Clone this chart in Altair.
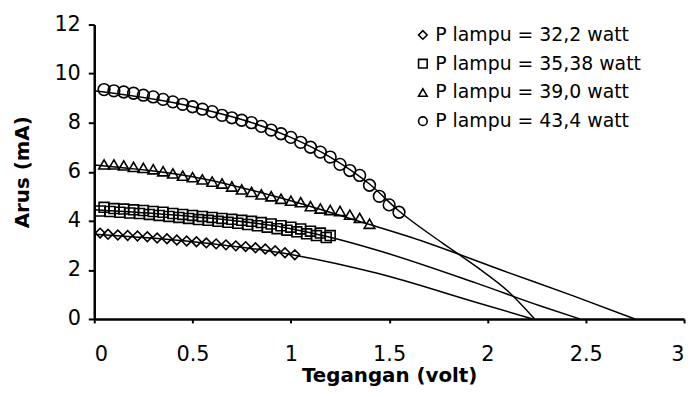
import altair as alt
import pandas as pd

# ---------------- data ----------------
series_labels = ["P lampu = 32,2 watt", "P lampu = 35,38 watt",
                 "P lampu = 39,0 watt", "P lampu = 43,4 watt"]
series_shapes = ["diamond", "square", "triangle-up", "circle"]
series_sizes = [95, 100, 115, 140]

x_ticks = [0, 0.5, 1, 1.5, 2, 2.5, 3]
y_ticks = [0, 2, 4, 6, 8, 10, 12]

# 32,2 watt (diamonds)
dia_x = [0.03, 0.07, 0.12, 0.17, 0.22, 0.27, 0.32, 0.37, 0.42, 0.47, 0.52,
         0.57, 0.62, 0.67, 0.72, 0.77, 0.82, 0.87, 0.92, 0.97, 1.02]
dia_y = [3.5, 3.45, 3.42, 3.4, 3.38, 3.35, 3.3, 3.27, 3.22, 3.18, 3.15,
         3.1, 3.06, 3.02, 2.98, 2.95, 2.9, 2.85, 2.78, 2.7, 2.62]

# 35,38 watt (squares, two overlapping runs)
sqa_x = [0.05, 0.1, 0.15, 0.2, 0.25, 0.3, 0.35, 0.4, 0.45, 0.5, 0.55, 0.6,
         0.65, 0.7, 0.75, 0.8, 0.85, 0.9, 0.95, 1.0, 1.05, 1.1, 1.15, 1.2]
sqa_y = [4.55, 4.5, 4.48, 4.45, 4.42, 4.38, 4.35, 4.3, 4.26, 4.22, 4.18, 4.14,
         4.1, 4.06, 4.02, 3.98, 3.93, 3.87, 3.8, 3.74, 3.67, 3.58, 3.5, 3.4]
sqb_x = [0.03, 0.08, 0.13, 0.18, 0.23, 0.28, 0.33, 0.38, 0.43, 0.48, 0.53, 0.58,
         0.63, 0.68, 0.73, 0.78, 0.83, 0.88, 0.93, 0.98, 1.03, 1.08, 1.13, 1.18]
sqb_y = [4.4, 4.38, 4.35, 4.32, 4.3, 4.26, 4.22, 4.18, 4.14, 4.1, 4.05, 4.02,
         3.98, 3.94, 3.9, 3.85, 3.8, 3.74, 3.68, 3.62, 3.55, 3.47, 3.4, 3.32]

# 39,0 watt (triangles)
tri_x = [0.05, 0.1, 0.15, 0.2, 0.25, 0.3, 0.35, 0.4, 0.45, 0.5, 0.55, 0.6, 0.65, 0.7,
         0.75, 0.8, 0.85, 0.9, 0.95, 1.0, 1.05, 1.1, 1.15, 1.2, 1.25, 1.3, 1.35, 1.4]
tri_y = [6.3, 6.3, 6.26, 6.2, 6.16, 6.1, 6.02, 5.93, 5.84, 5.78, 5.69, 5.6, 5.52, 5.4,
         5.28, 5.18, 5.08, 5.0, 4.9, 4.82, 4.76, 4.6, 4.5, 4.44, 4.4, 4.25, 4.12, 3.88]

# 43,4 watt (circles)
cir_x = [0.05, 0.1, 0.15, 0.2, 0.25, 0.3, 0.35, 0.4, 0.45, 0.5, 0.55, 0.6, 0.65, 0.7,
         0.75, 0.8, 0.85, 0.9, 0.95, 1.0, 1.05, 1.1, 1.15, 1.2, 1.25, 1.3, 1.35, 1.4,
         1.45, 1.5, 1.55]
cir_y = [9.35, 9.3, 9.25, 9.2, 9.12, 9.05, 8.95, 8.85, 8.75, 8.65, 8.55, 8.45, 8.3, 8.2,
         8.1, 8.0, 7.85, 7.7, 7.55, 7.4, 7.2, 7.0, 6.8, 6.6, 6.3, 6.05, 5.85, 5.45,
         5.0, 4.65, 4.35]

# fitted curves
dia_cx = [0.0, 0.5, 1.02, 1.44, 1.94, 2.23]
dia_cy = [3.45, 3.15, 2.6, 1.86, 0.68, 0.0]
sq_cx = [0.0, 0.5, 1.0, 1.2, 1.44, 1.94, 2.27, 2.47]
sq_cy = [4.45, 4.17, 3.68, 3.33, 2.8, 1.47, 0.53, 0.0]
tri_cx = [0.0, 0.5, 1.0, 1.38, 1.61, 2.11, 2.44, 2.75]
tri_cy = [6.28, 5.8, 4.82, 3.9, 3.33, 1.88, 0.93, 0.0]
cir_cx = [0.0, 0.5, 1.0, 1.2, 1.4, 1.55, 1.77, 1.94, 2.11, 2.24]
cir_cy = [9.3, 8.65, 7.4, 6.6, 5.5, 4.4, 3.1, 2.15, 1.09, 0.0]

# ---------------- tables ----------------
pts_rows = []
for lab, xs, ys in [(series_labels[0], dia_x, dia_y),
                    (series_labels[1], sqa_x, sqa_y),
                    (series_labels[1], sqb_x, sqb_y),
                    (series_labels[2], tri_x, tri_y),
                    (series_labels[3], cir_x, cir_y)]:
    for xv, yv in zip(xs, ys):
        pts_rows.append({"v": xv, "i": yv, "s": lab})
pts = pd.DataFrame(pts_rows)

cur_rows = []
for lab, xs, ys in [(series_labels[0], dia_cx, dia_cy),
                    (series_labels[1], sq_cx, sq_cy),
                    (series_labels[2], tri_cx, tri_cy),
                    (series_labels[3], cir_cx, cir_cy)]:
    for k, (xv, yv) in enumerate(zip(xs, ys)):
        cur_rows.append({"v": xv, "i": yv, "s": lab, "o": k})
curves = pd.DataFrame(cur_rows)

FONT = "DejaVu Sans"
x_scale = alt.Scale(domain=[0, 3], nice=False, zero=True)
y_scale = alt.Scale(domain=[0, 12], nice=False)

x_enc = alt.X("v:Q", scale=x_scale,
              axis=alt.Axis(values=x_ticks, format="~g", title="Tegangan (volt)",
                            labelPadding=21, titlePadding=1, tickSize=4))
y_enc = alt.Y("i:Q", scale=y_scale,
              axis=alt.Axis(values=y_ticks, title="Arus (mA)",
                            labelPadding=8, titlePadding=22, tickSize=6))

lines = alt.Chart(curves).mark_line(
    color="black", strokeWidth=1.5, interpolate="monotone"
).encode(x=x_enc, y=y_enc, detail="s:N", order="o:Q")

shape_scale = alt.Scale(domain=series_labels, range=series_shapes)
legend = alt.Legend(title=None, orient="none", legendX=322, legendY=1,
                    labelFont=FONT, labelFontSize=19, labelColor="black",
                    labelLimit=0,
                    symbolSize=75, symbolStrokeWidth=1.6,
                    symbolStrokeColor="black", symbolFillColor="white",
                    rowPadding=9, labelOffset=3)

point_layers = []
for lab, sz in zip(series_labels, series_sizes):
    point_layers.append(
        alt.Chart(pts).transform_filter(alt.datum.s == lab).mark_point(
            filled=False, color="black", strokeWidth=1.6, opacity=1, size=sz
        ).encode(
            x=alt.X("v:Q", scale=x_scale),
            y=alt.Y("i:Q", scale=y_scale),
            shape=alt.Shape("s:N", scale=shape_scale, legend=legend),
        )
    )

chart = alt.layer(lines, *point_layers).properties(
    width=595, height=297,
    autosize=alt.AutoSizeParams(type="none"),
    padding={"left": 87, "top": 15, "right": 8, "bottom": 75},
).configure_view(stroke=None).configure_axis(
    grid=False,
    domainColor="black", domainWidth=2.5,
    tickColor="black", tickWidth=2,
    labelFont=FONT, labelFontSize=21, labelColor="black",
    titleFont=FONT, titleFontSize=20, titleFontWeight="bold", titleColor="black",
)

chart.save("out.html", embed_options={"renderer": "svg", "actions": False})
